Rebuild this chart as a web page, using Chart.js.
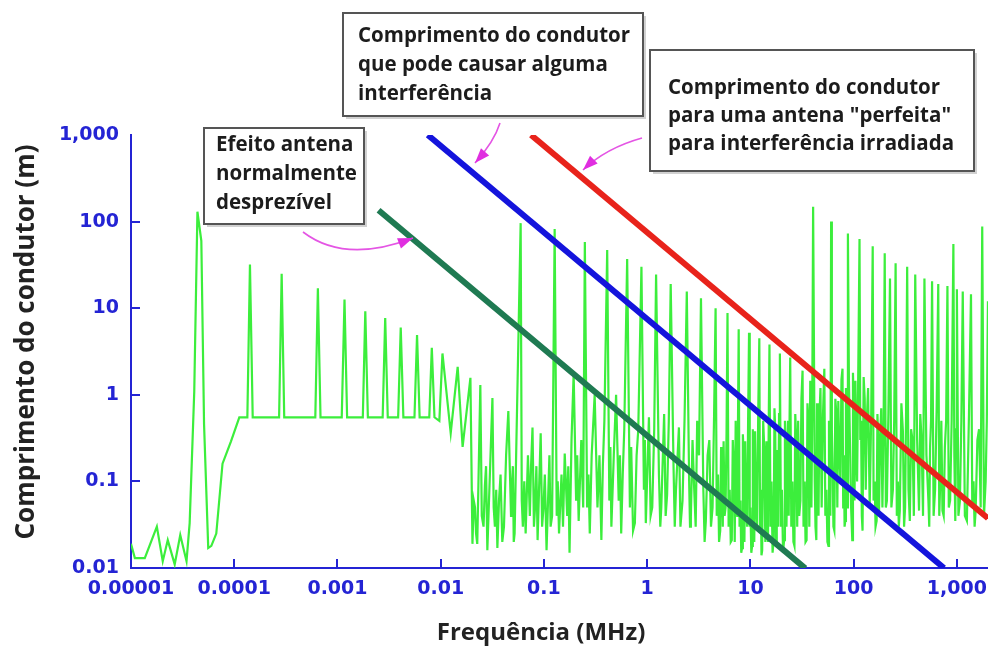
<!DOCTYPE html>
<html>
<head>
<meta charset="utf-8">
<script src="https://cdn.jsdelivr.net/npm/chart.js@4.4.1/dist/chart.umd.min.js"></script>
<style>
  body { margin: 0; background: #fff; }
  #wrap { width: 997px; height: 648px; position: relative; }
</style>
</head>
<body>
<div id="wrap"><canvas id="antennaChart"></canvas></div>
<script>
// axis ticks
var xTickValues = [1e-5, 1e-4, 1e-3, 0.01, 0.1, 1, 10, 100, 1000];
var xTickLabels = ['0.00001', '0.0001', '0.001', '0.01', '0.1', '1', '10', '100', '1,000'];
var yTickValues = [0.01, 0.1, 1, 10, 100, 1000];
var yTickLabels = ['0.01', '0.1', '1', '10', '100', '1,000'];

// measured spectrum, read off in pieces (frequency in MHz, conductor length in m)
// low end + plateau
var lowFreq = [
  1.0e-5, 1.09e-5, 1.36e-5, 1.78e-5, 2.03e-5, 2.27e-5, 2.65e-5, 3.0e-5, 3.45e-5, 3.7e-5,
  4.1e-5, 4.4e-5, 4.8e-5, 5.1e-5, 5.6e-5, 6.0e-5, 6.7e-5, 7.7e-5, 9.3e-5, 1.12e-4,
  1.34e-4, 1.42e-4, 1.51e-4, 2.72e-4, 2.88e-4, 3.05e-4, 6.1e-4, 6.46e-4, 6.85e-4, 1.1e-3,
  1.17e-3, 1.24e-3, 1.76e-3, 1.86e-3, 1.97e-3, 2.74e-3, 2.9e-3, 3.07e-3, 3.87e-3, 4.1e-3,
  4.35e-3, 5.57e-3, 5.9e-3, 6.25e-3, 7.75e-3, 8.2e-3, 8.7e-3, 9.7e-3, 0.0104, 0.0125,
  0.0146, 0.0163, 0.0194
];
var lowLen = [
  0.019, 0.013, 0.013, 0.030, 0.012, 0.021, 0.011, 0.024, 0.012, 0.033,
  1.1, 130, 60, 0.46, 0.017, 0.018, 0.025, 0.16, 0.29, 0.55,
  0.55, 32, 0.55, 0.55, 25, 0.55, 0.55, 17, 0.55, 0.55,
  12.6, 0.55, 0.55, 9.2, 0.55, 0.55, 7.7, 0.55, 0.55, 6.0,
  0.55, 0.55, 4.9, 0.55, 0.55, 3.5, 0.55, 0.5, 3.0, 0.36,
  2.1, 0.25, 1.57
];
// 0.02 - 3.7 MHz
var midFreq = [
  0.0203, 0.0209, 0.0215, 0.022, 0.0226, 0.0242, 0.025, 0.026, 0.0268, 0.0275,
  0.0283, 0.0317, 0.0326, 0.0335, 0.0345, 0.0354, 0.0367, 0.038, 0.0395, 0.041,
  0.043, 0.0452, 0.048, 0.049, 0.05, 0.051, 0.052, 0.0595, 0.061, 0.0625,
  0.0645, 0.0665, 0.07, 0.073, 0.075, 0.0775, 0.08, 0.082, 0.0845, 0.0868,
  0.093, 0.096, 0.099, 0.102, 0.106, 0.113, 0.116, 0.12, 0.127, 0.133,
  0.136, 0.14, 0.148, 0.153, 0.159, 0.168, 0.172, 0.177, 0.185, 0.194,
  0.205, 0.21, 0.217, 0.23, 0.24, 0.249, 0.262, 0.27, 0.278, 0.29,
  0.31, 0.33, 0.345, 0.36, 0.372, 0.385, 0.41, 0.43, 0.44, 0.45,
  0.475, 0.5, 0.53, 0.545, 0.56, 0.58, 0.6, 0.64, 0.68, 0.7,
  0.73, 0.76, 0.79, 0.82, 0.88, 0.93, 0.95, 0.97, 1.04, 1.08,
  1.12, 1.17, 1.22, 1.3, 1.34, 1.37, 1.46, 1.51, 1.56, 1.62,
  1.69, 1.8, 1.85, 1.9, 2.03, 2.1, 2.2, 2.3, 2.42, 2.55,
  2.6, 2.65, 2.75, 2.84, 2.95, 3.05, 3.18, 3.32, 3.5, 3.6,
  3.7
];
var midLen = [
  0.019, 0.06, 0.05, 0.025, 0.019, 1.3, 0.04, 0.03, 0.09, 0.15,
  0.016, 0.92, 0.05, 0.03, 0.08, 0.017, 0.06, 0.12, 0.02, 0.03,
  0.2, 0.65, 0.04, 0.09, 0.15, 0.02, 0.025, 96, 0.06, 0.03,
  0.1, 0.025, 0.2, 0.04, 0.15, 0.42, 0.03, 0.05, 0.15, 0.021,
  0.36, 0.03, 0.05, 0.12, 0.016, 0.2, 0.03, 0.04, 82, 0.04,
  0.1, 0.025, 0.12, 0.03, 0.21, 0.04, 0.15, 0.015, 0.3, 1.75,
  0.06, 0.2, 0.035, 0.3, 0.05, 58, 0.05, 0.12, 0.025, 0.2,
  1.0, 0.05, 0.2, 0.021, 0.15, 0.5, 47, 0.06, 0.25, 0.030,
  0.2, 1.0, 0.06, 0.2, 0.025, 0.12, 0.4, 37, 0.05, 0.25,
  0.027, 0.033, 0.2, 0.4, 30, 0.08, 0.3, 0.033, 0.55, 0.04,
  0.05, 0.4, 24.5, 0.12, 0.03, 0.05, 0.6, 0.04, 0.07, 0.5,
  19, 0.15, 0.03, 0.079, 0.42, 0.03, 0.06, 0.5, 15.6, 0.1,
  0.03, 0.039, 0.3, 0.095, 0.03, 0.5, 0.2, 13, 0.08, 0.02,
  0.035
];
// 3.85 - 40.5 MHz (dense)
var denseFreq = [
  3.85, 4.0, 4.15, 4.3, 4.45, 4.6, 4.72, 4.85, 4.97, 5.1,
  5.2, 5.3, 5.4, 5.5, 5.62, 5.75, 5.87, 6.0, 6.15, 6.3,
  6.45, 6.6, 6.75, 6.9, 7.05, 7.2, 7.3, 7.45, 7.57, 7.7,
  7.85, 8.0, 8.15, 8.3, 8.45, 8.6, 8.75, 8.9, 9.1, 9.3,
  9.5, 9.7, 9.85, 10.0, 10.2, 10.4, 10.55, 10.7, 10.9, 11.1,
  11.35, 11.6, 11.9, 12.2, 12.4, 12.6, 12.8, 13.0, 13.3, 13.6,
  13.95, 14.3, 14.55, 14.8, 15.05, 15.3, 15.65, 16.0, 16.4, 16.8,
  17.1, 17.4, 17.7, 18.0, 18.3, 18.6, 18.95, 19.3, 19.75, 20.2,
  20.7, 21.2, 21.6, 22.0, 22.35, 22.7, 23.1, 23.5, 23.9, 24.3,
  24.9, 25.5, 26.1, 26.7, 27.2, 27.8, 28.4, 29, 29.7, 30.5,
  31.2, 32, 32.7, 33.5, 34.2, 35, 35.7, 36.5, 37.2, 38,
  38.5, 39, 39.7, 40.5
];
var denseLen = [
  0.2, 0.3, 0.03, 0.05, 0.6, 10, 0.04, 0.12, 0.02, 0.027,
  0.25, 0.1, 0.03, 0.29, 0.04, 0.05, 0.35, 8.8, 0.03, 0.08,
  0.02, 0.021, 0.3, 0.15, 0.02, 0.5, 0.05, 0.04, 0.4, 5.7,
  0.03, 0.06, 0.015, 0.017, 0.35, 0.2, 0.02, 0.29, 0.05, 0.03,
  0.5, 5.2, 0.03, 0.05, 0.015, 0.018, 0.4, 0.2, 0.02, 0.38,
  0.05, 0.03, 0.6, 4.5, 0.03, 0.08, 0.014, 0.016, 0.5, 0.25,
  0.02, 0.29, 0.04, 0.02, 0.5, 3.8, 0.03, 0.1, 0.015, 0.021,
  0.7, 0.4, 0.02, 0.23, 0.05, 0.03, 0.6, 3.0, 0.03, 0.08,
  0.015, 0.021, 0.5, 0.3, 0.03, 0.13, 0.5, 0.04, 0.4, 2.7,
  0.03, 0.1, 0.02, 0.018, 0.6, 0.3, 0.03, 0.5, 0.04, 0.06,
  0.9, 1.9, 0.03, 0.1, 0.02, 0.021, 0.8, 0.5, 0.03, 1.45,
  0.2, 0.05, 0.6, 148
];
// 42 - 200 MHz
var vhfFreq = [
  42, 42.7, 43.5, 44.2, 45, 45.7, 46.5, 47.7, 49, 50.5,
  52, 53.2, 54.5, 55.7, 57, 57.7, 58.5, 59.5, 60.5, 61.5,
  62.5, 63.7, 65, 66.5, 68, 69.5, 71, 72.7, 74.5, 76.2,
  78, 79.2, 80.5, 81.7, 83, 84.2, 85.5, 86.7, 88, 90,
  92, 94.5, 97, 98.5, 100, 102, 104, 106, 108, 111,
  114, 116, 118, 120, 122, 125, 128, 131, 134, 138,
  143, 148, 153, 156, 160, 163, 167, 170, 173, 176,
  180, 185, 190, 195, 200
];
var vhfLen = [
  0.1, 0.03, 0.021, 0.8, 0.3, 0.04, 0.5, 1.2, 0.05, 0.6,
  2.0, 0.04, 0.08, 0.02, 0.018, 0.5, 0.2, 0.04, 100, 0.4,
  0.15, 0.03, 0.027, 0.9, 0.6, 0.05, 0.85, 0.2, 0.1, 1.5,
  2.0, 0.05, 0.2, 0.03, 0.035, 1.2, 0.5, 0.05, 73, 1.5,
  0.3, 0.05, 0.021, 1.8, 0.8, 0.06, 1.45, 0.3, 0.1, 2.2,
  63, 0.3, 0.5, 0.04, 0.027, 1.6, 0.9, 0.08, 0.5, 1.2,
  0.05, 0.6, 52, 0.06, 0.1, 0.03, 0.035, 0.6, 0.3, 0.04,
  0.29, 0.7, 0.05, 0.4, 43
];
// 205 - 2000 MHz
var uhfFreq = [
  205, 210, 217, 225, 232, 240, 247, 255, 262, 268,
  274, 280, 290, 300, 308, 315, 322, 330, 340, 350,
  360, 372, 383, 395, 412, 430, 442, 455, 470, 485,
  507, 530, 540, 550, 562, 575, 595, 615, 637, 660,
  675, 690, 707, 725, 745, 765, 787, 810, 835, 860,
  890, 925, 945, 965, 982, 1000, 1035, 1070, 1105, 1140,
  1195, 1250, 1310, 1370, 1410, 1450, 1485, 1520, 1580, 1640,
  1700, 1760, 1830, 1900, 1950, 2000
];
var uhfLen = [
  0.05, 0.06, 0.6, 22, 0.05, 0.08, 0.5, 33, 0.04, 0.1,
  0.03, 0.046, 0.8, 0.38, 0.03, 0.05, 0.6, 30, 0.08, 0.035,
  0.4, 0.3, 0.04, 24.5, 0.3, 0.046, 0.6, 0.3, 0.04, 22,
  0.2, 0.06, 0.03, 0.25, 0.5, 20.5, 0.04, 0.08, 0.7, 19,
  0.04, 0.1, 0.5, 0.046, 0.04, 0.25, 0.5, 18, 0.05, 0.06,
  0.5, 55, 0.2, 0.035, 0.4, 16.5, 0.04, 0.06, 0.5, 15.6,
  0.04, 0.035, 0.6, 14.5, 0.05, 0.1, 0.03, 0.046, 0.3, 0.4,
  0.05, 88, 0.04, 0.1, 0.5, 12
];

// reference conductor-length lines (end points)
var negligibleFreq = [0.0025, 34];
var negligibleLen = [135, 0.0099];
var someFreq = [0.0075, 750];
var someLen = [1000, 0.01];
var perfectFreq = [0.075, 2000];
var perfectLen = [1000, 0.0375];

var axisBlue = '#2424d4';

var specFreq = lowFreq.concat(midFreq, denseFreq, vhfFreq, uhfFreq);
var specLen = lowLen.concat(midLen, denseLen, vhfLen, uhfLen);

function pts(fs, ls) {
  return fs.map(function(f, i) { return { x: f, y: ls[i] }; });
}

var decorations = {
  id: 'decorations',
  afterDraw: function(chart) {
    var ctx = chart.ctx;
    var xs = chart.scales.x, ys = chart.scales.y;
    var area = chart.chartArea;
    ctx.save();
    // inward tick marks
    ctx.strokeStyle = axisBlue;
    ctx.lineWidth = 2;
    xTickValues.slice(1).forEach(function(v) {
      var px = Math.round(xs.getPixelForValue(v));
      ctx.beginPath(); ctx.moveTo(px, area.bottom); ctx.lineTo(px, area.bottom - 9); ctx.stroke();
    });
    yTickValues.slice(1, -1).forEach(function(v) {
      var py = Math.round(ys.getPixelForValue(v));
      ctx.beginPath(); ctx.moveTo(area.left, py); ctx.lineTo(area.left + 9, py); ctx.stroke();
    });

    // axis titles
    ctx.fillStyle = '#222';
    ctx.textAlign = 'center';
    ctx.textBaseline = 'middle';
    ctx.font = 'bold 24px "Open Sans"';
    ctx.fillText('Frequência (MHz)', 541, 633);
    ctx.save();
    ctx.translate(27, 342);
    ctx.rotate(-Math.PI / 2);
    ctx.font = 'bold 26px "Open Sans"';
    ctx.fillText('Comprimento do condutor (m)', 0, 0);
    ctx.restore();

    // annotation boxes
    function box(x, y, w, h, lines, tx, ty, lh) {
      ctx.fillStyle = 'rgba(0,0,0,0.18)';
      ctx.fillRect(x + 3, y + 3, w, h);
      ctx.fillStyle = '#fff';
      ctx.fillRect(x, y, w, h);
      ctx.strokeStyle = '#555';
      ctx.lineWidth = 2;
      ctx.strokeRect(x, y, w, h);
      ctx.fillStyle = '#1c1c1c';
      ctx.font = 'bold 20.5px "Open Sans"';
      ctx.textAlign = 'left';
      ctx.textBaseline = 'alphabetic';
      lines.forEach(function(t, i) { ctx.fillText(t, tx, ty + i * lh); });
    }
    box(343, 13, 300, 103, ['Comprimento do condutor', 'que pode causar alguma', 'interferência'], 358, 42, 29);
    box(650, 50, 324, 121, ['Comprimento do condutor', 'para uma antena "perfeita"', 'para interferência irradiada'], 668, 94, 28);
    box(204, 128, 160, 96, ['Efeito antena', 'normalmente', 'desprezível'], 216, 151, 29);

    // magenta arrows
    function arrow(x0, y0, cx, cy, x1, y1) {
      ctx.strokeStyle = '#e455e4';
      ctx.fillStyle = '#e02ee0';
      ctx.lineWidth = 1.6;
      ctx.beginPath(); ctx.moveTo(x0, y0); ctx.quadraticCurveTo(cx, cy, x1, y1); ctx.stroke();
      var a = Math.atan2(y1 - cy, x1 - cx);
      var L = 15, W = 5.5;
      ctx.beginPath();
      ctx.moveTo(x1, y1);
      ctx.lineTo(x1 - L * Math.cos(a) + W * Math.sin(a), y1 - L * Math.sin(a) - W * Math.cos(a));
      ctx.lineTo(x1 - L * Math.cos(a) - W * Math.sin(a), y1 - L * Math.sin(a) + W * Math.cos(a));
      ctx.closePath();
      ctx.fill();
    }
    arrow(303, 232, 345, 264, 413, 238);
    arrow(500, 123, 494, 142, 475, 163);
    arrow(642, 138, 606, 148, 583, 170);
    ctx.restore();
  }
};

var ctx = document.getElementById('antennaChart').getContext('2d');
var chart = new Chart(ctx, {
  type: 'line',
  data: {
    datasets: [{
      data: pts(specFreq, specLen),
      borderColor: '#3cee3c',
      borderWidth: 2.2,
      order: 4
    }, {
      data: pts(negligibleFreq, negligibleLen),
      borderColor: '#1f7a52',
      borderWidth: 6,
      order: 3
    }, {
      data: pts(someFreq, someLen),
      borderColor: '#1414dc',
      borderWidth: 6,
      order: 2
    }, {
      data: pts(perfectFreq, perfectLen),
      borderColor: '#e8231b',
      borderWidth: 6,
      order: 1
    }]
  },
  options: {
    responsive: true,
    maintainAspectRatio: false,
    animation: false,
    layout: { padding: { left: 0, right: 2, top: 135, bottom: 0 } },
    elements: {
      point: { radius: 0 },
      line: { tension: 0, borderCapStyle: 'butt', borderJoinStyle: 'miter' }
    },
    plugins: {
      legend: { display: false },
      tooltip: { enabled: false }
    },
    scales: {
      x: {
        type: 'logarithmic',
        min: 1e-5,
        max: 2000,
        afterBuildTicks: function(s) { s.ticks = xTickValues.map(function(v) { return { value: v }; }); },
        afterFit: function(s) { s.height = 80; },
        ticks: {
          callback: function(v, i) { return xTickLabels[i]; },
          color: axisBlue,
          font: { family: 'DejaVu Sans', weight: 'bold', size: 19 },
          padding: 10,
          autoSkip: false,
          maxRotation: 0
        },
        grid: { display: false, drawTicks: false },
        border: { color: axisBlue, width: 2 }
      },
      y: {
        type: 'logarithmic',
        min: 0.01,
        max: 1000,
        afterBuildTicks: function(s) { s.ticks = yTickValues.map(function(v) { return { value: v }; }); },
        afterFit: function(s) { s.width = 131; },
        ticks: {
          callback: function(v, i) { return yTickLabels[i]; },
          color: axisBlue,
          font: { family: 'DejaVu Sans', weight: 'bold', size: 19 },
          padding: 12,
          autoSkip: false
        },
        grid: { display: false, drawTicks: false },
        border: { color: axisBlue, width: 2 }
      }
    }
  },
  plugins: [decorations]
});
</script>
</body>
</html>
